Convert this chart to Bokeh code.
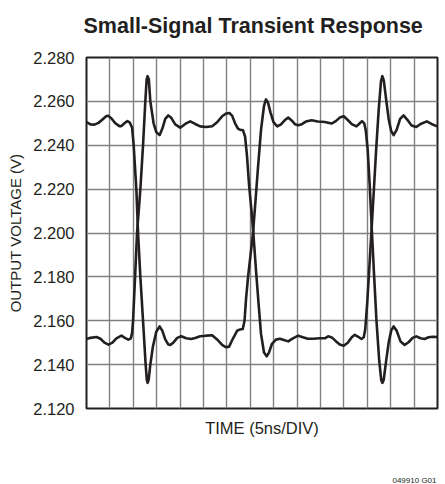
from bokeh.plotting import figure
from bokeh.models import FixedTicker, NumeralTickFormatter, Range1d, Title
from bokeh.embed import file_html
from bokeh.resources import INLINE

# ---- data (time in ns, voltage in V) ----
time_ticks = [0, 5, 10, 15, 20, 25, 30, 35, 40, 45, 50, 55, 60, 65, 70, 75]
volt_ticks = [2.12, 2.14, 2.16, 2.18, 2.20, 2.22, 2.24, 2.26, 2.28]

trace_a_t = [0.00, 0.85, 1.70, 2.56, 3.41, 4.26, 4.69, 5.33, 6.18, 7.03, 7.46, 8.10, 8.74, 9.27,
             9.74, 10.08, 10.65, 11.02, 11.51, 12.08, 12.64, 12.89, 13.06, 13.27, 13.64, 14.17,
             14.91, 15.62, 16.19, 16.83, 17.47, 17.90, 18.54, 19.39, 20.24, 21.31, 22.37, 23.22,
             24.29, 25.57, 26.85, 27.91, 28.98, 29.83, 30.47, 31.32, 32.24, 32.81, 33.39, 33.77,
             34.09, 34.52, 35.05, 35.58, 36.12, 36.65, 37.29, 37.93, 38.35, 38.78, 39.31, 39.95,
             40.76, 41.55, 42.40, 43.10, 43.89, 44.53, 45.23, 46.02, 46.87, 48.09, 49.43, 50.92,
             52.35, 53.27, 54.12, 54.97, 55.83, 56.68, 57.68, 58.28, 58.87, 59.34, 59.66, 60.08,
             60.51, 61.00, 61.47, 61.96, 62.54, 62.97, 63.22, 63.50, 63.92, 64.56, 65.10, 65.63,
             66.27, 67.12, 67.97, 68.82, 69.68, 70.46, 71.38, 72.24, 73.09, 73.94, 74.94]
trace_a_v = [2.2506, 2.2495, 2.2494, 2.2502, 2.2517, 2.2533, 2.2534, 2.2522, 2.2500, 2.2487, 2.2487,
             2.2500, 2.2510, 2.2503, 2.2480, 2.2400, 2.2200, 2.2000, 2.1800, 2.1600, 2.1400, 2.1330,
             2.1317, 2.1330, 2.1400, 2.1480, 2.1550, 2.1574, 2.1555, 2.1515, 2.1492, 2.1490, 2.1500,
             2.1522, 2.1529, 2.1520, 2.1517, 2.1521, 2.1529, 2.1532, 2.1534, 2.1515, 2.1490, 2.1479,
             2.1482, 2.1520, 2.1556, 2.1560, 2.1562, 2.1600, 2.1700, 2.1800, 2.1900, 2.2000, 2.2150,
             2.2300, 2.2470, 2.2580, 2.2609, 2.2595, 2.2550, 2.2505, 2.2486, 2.2495, 2.2515, 2.2526,
             2.2512, 2.2496, 2.2491, 2.2496, 2.2508, 2.2514, 2.2508, 2.2506, 2.2499, 2.2510, 2.2526,
             2.2532, 2.2515, 2.2496, 2.2486, 2.2498, 2.2510, 2.2500, 2.2470, 2.2380, 2.2220, 2.2000,
             2.1800, 2.1600, 2.1420, 2.1330, 2.1317, 2.1330, 2.1400, 2.1500, 2.1555, 2.1574, 2.1555,
             2.1505, 2.1490, 2.1502, 2.1522, 2.1529, 2.1520, 2.1517, 2.1525, 2.1527, 2.1526]

trace_b_t = [0.00, 0.85, 2.13, 2.98, 3.84, 4.69, 5.54, 6.39, 7.46, 8.20, 8.95, 9.48, 9.74, 9.95,
             10.38, 10.80, 11.51, 12.08, 12.57, 12.85, 13.06, 13.32, 13.64, 14.34, 14.91, 15.62,
             16.19, 16.83, 17.47, 18.11, 18.96, 20.03, 21.09, 22.16, 23.22, 24.29, 25.57, 26.85,
             27.91, 28.98, 29.83, 30.53, 31.11, 31.75, 32.39, 32.81, 33.45, 33.88, 34.30, 34.73,
             35.26, 35.65, 36.22, 36.76, 37.29, 37.93, 38.50, 38.99, 39.63, 40.48, 41.33, 42.19,
             43.10, 44.10, 45.23, 46.23, 47.30, 48.44, 49.86, 50.92, 51.63, 52.42, 53.27, 54.12,
             54.97, 55.83, 56.68, 57.32, 58.07, 58.75, 59.24, 59.55, 59.98, 60.40, 60.87, 61.36,
             61.89, 62.43, 62.92, 63.22, 63.53, 64.02, 64.56, 65.10, 65.63, 66.27, 67.01, 67.75,
             68.61, 69.46, 70.46, 71.38, 72.72, 73.72, 74.94]
trace_b_v = [2.1517, 2.1522, 2.1526, 2.1518, 2.1500, 2.1491, 2.1500, 2.1520, 2.1532, 2.1522, 2.1514,
             2.1520, 2.1545, 2.1600, 2.1800, 2.2000, 2.2200, 2.2400, 2.2600, 2.2700, 2.2715, 2.2700,
             2.2600, 2.2500, 2.2460, 2.2446, 2.2475, 2.2520, 2.2536, 2.2525, 2.2495, 2.2480, 2.2497,
             2.2509, 2.2497, 2.2486, 2.2483, 2.2487, 2.2505, 2.2532, 2.2545, 2.2547, 2.2535, 2.2500,
             2.2475, 2.2471, 2.2468, 2.2440, 2.2350, 2.2220, 2.2100, 2.2000, 2.1830, 2.1680, 2.1540,
             2.1455, 2.1438, 2.1455, 2.1495, 2.1514, 2.1518, 2.1512, 2.1506, 2.1520, 2.1532, 2.1525,
             2.1518, 2.1518, 2.1520, 2.1520, 2.1529, 2.1524, 2.1507, 2.1492, 2.1486, 2.1500, 2.1525,
             2.1536, 2.1527, 2.1517, 2.1525, 2.1560, 2.1680, 2.1830, 2.2000, 2.2180, 2.2380, 2.2560,
             2.2690, 2.2715, 2.2695, 2.2610, 2.2520, 2.2465, 2.2446, 2.2470, 2.2520, 2.2536, 2.2515,
             2.2490, 2.2483, 2.2497, 2.2509, 2.2497, 2.2486]

title_text = "Small-Signal Transient Response"
x_label = "TIME (5ns/DIV)"
y_label = "OUTPUT VOLTAGE (V)"
code_text = "049910 G01"

FONT = "Liberation Sans"
INK = "#231f20"

p = figure(width=445, height=484,
           x_range=Range1d(0, 75), y_range=Range1d(2.12, 2.28),
           output_backend="svg", toolbar_location=None,
           min_border_left=86, min_border_right=8,
           min_border_top=57, min_border_bottom=75)

p.background_fill_color = "white"
p.border_fill_color = "white"
p.outline_line_color = INK
p.outline_line_width = 2

# title
p.title.text = title_text
p.title.text_font = FONT
p.title.text_font_size = "21.5px"
p.title.text_font_style = "bold"
p.title.text_color = INK
p.title.align = "left"
p.title.offset = -3
p.title.standoff = 10
p.title.padding = dict(top=0, right=0, bottom=15, left=0)

# grids
p.xgrid.ticker = FixedTicker(ticks=time_ticks)
p.ygrid.ticker = FixedTicker(ticks=volt_ticks)
for g in (p.xgrid, p.ygrid):
    g.grid_line_color = "#808080"
    g.grid_line_width = 1.4

# x axis: label only
xa = p.xaxis[0]
xa.ticker = FixedTicker(ticks=[])
xa.axis_line_color = None
xa.major_tick_line_color = None
xa.minor_tick_line_color = None
xa.major_tick_out = 0
xa.minor_tick_out = 0
xa.axis_label = x_label
xa.axis_label_text_font = FONT
xa.axis_label_text_font_size = "16.5px"
xa.axis_label_text_font_style = "normal"
xa.axis_label_text_color = INK
xa.axis_label_standoff = 10

# y axis
ya = p.yaxis[0]
ya.ticker = FixedTicker(ticks=volt_ticks)
ya.formatter = NumeralTickFormatter(format="0.000")
ya.axis_line_color = None
ya.major_tick_line_color = None
ya.minor_tick_line_color = None
ya.major_tick_out = 0
ya.minor_tick_out = 0
ya.major_label_text_font = FONT
ya.major_label_text_font_size = "16.5px"
ya.major_label_text_color = INK
ya.major_label_standoff = 12
ya.axis_label = y_label
ya.axis_label_text_font = FONT
ya.axis_label_text_font_size = "15px"
ya.axis_label_text_font_style = "normal"
ya.axis_label_text_color = INK
ya.axis_label_standoff = 6

# traces
p.line(trace_a_t, trace_a_v, line_color=INK, line_width=2.6, line_join="round")
p.line(trace_b_t, trace_b_v, line_color=INK, line_width=2.6, line_join="round")

# figure code, bottom right
p.add_layout(Title(text=code_text, align="right", vertical_align="bottom",
                   text_font=FONT, text_font_size="8px", text_font_style="normal",
                   text_color=INK, standoff=0, offset=1,
                   padding=dict(top=34, right=0, bottom=0, left=0)), "below")

open("out.html", "w").write(file_html(p, INLINE))
